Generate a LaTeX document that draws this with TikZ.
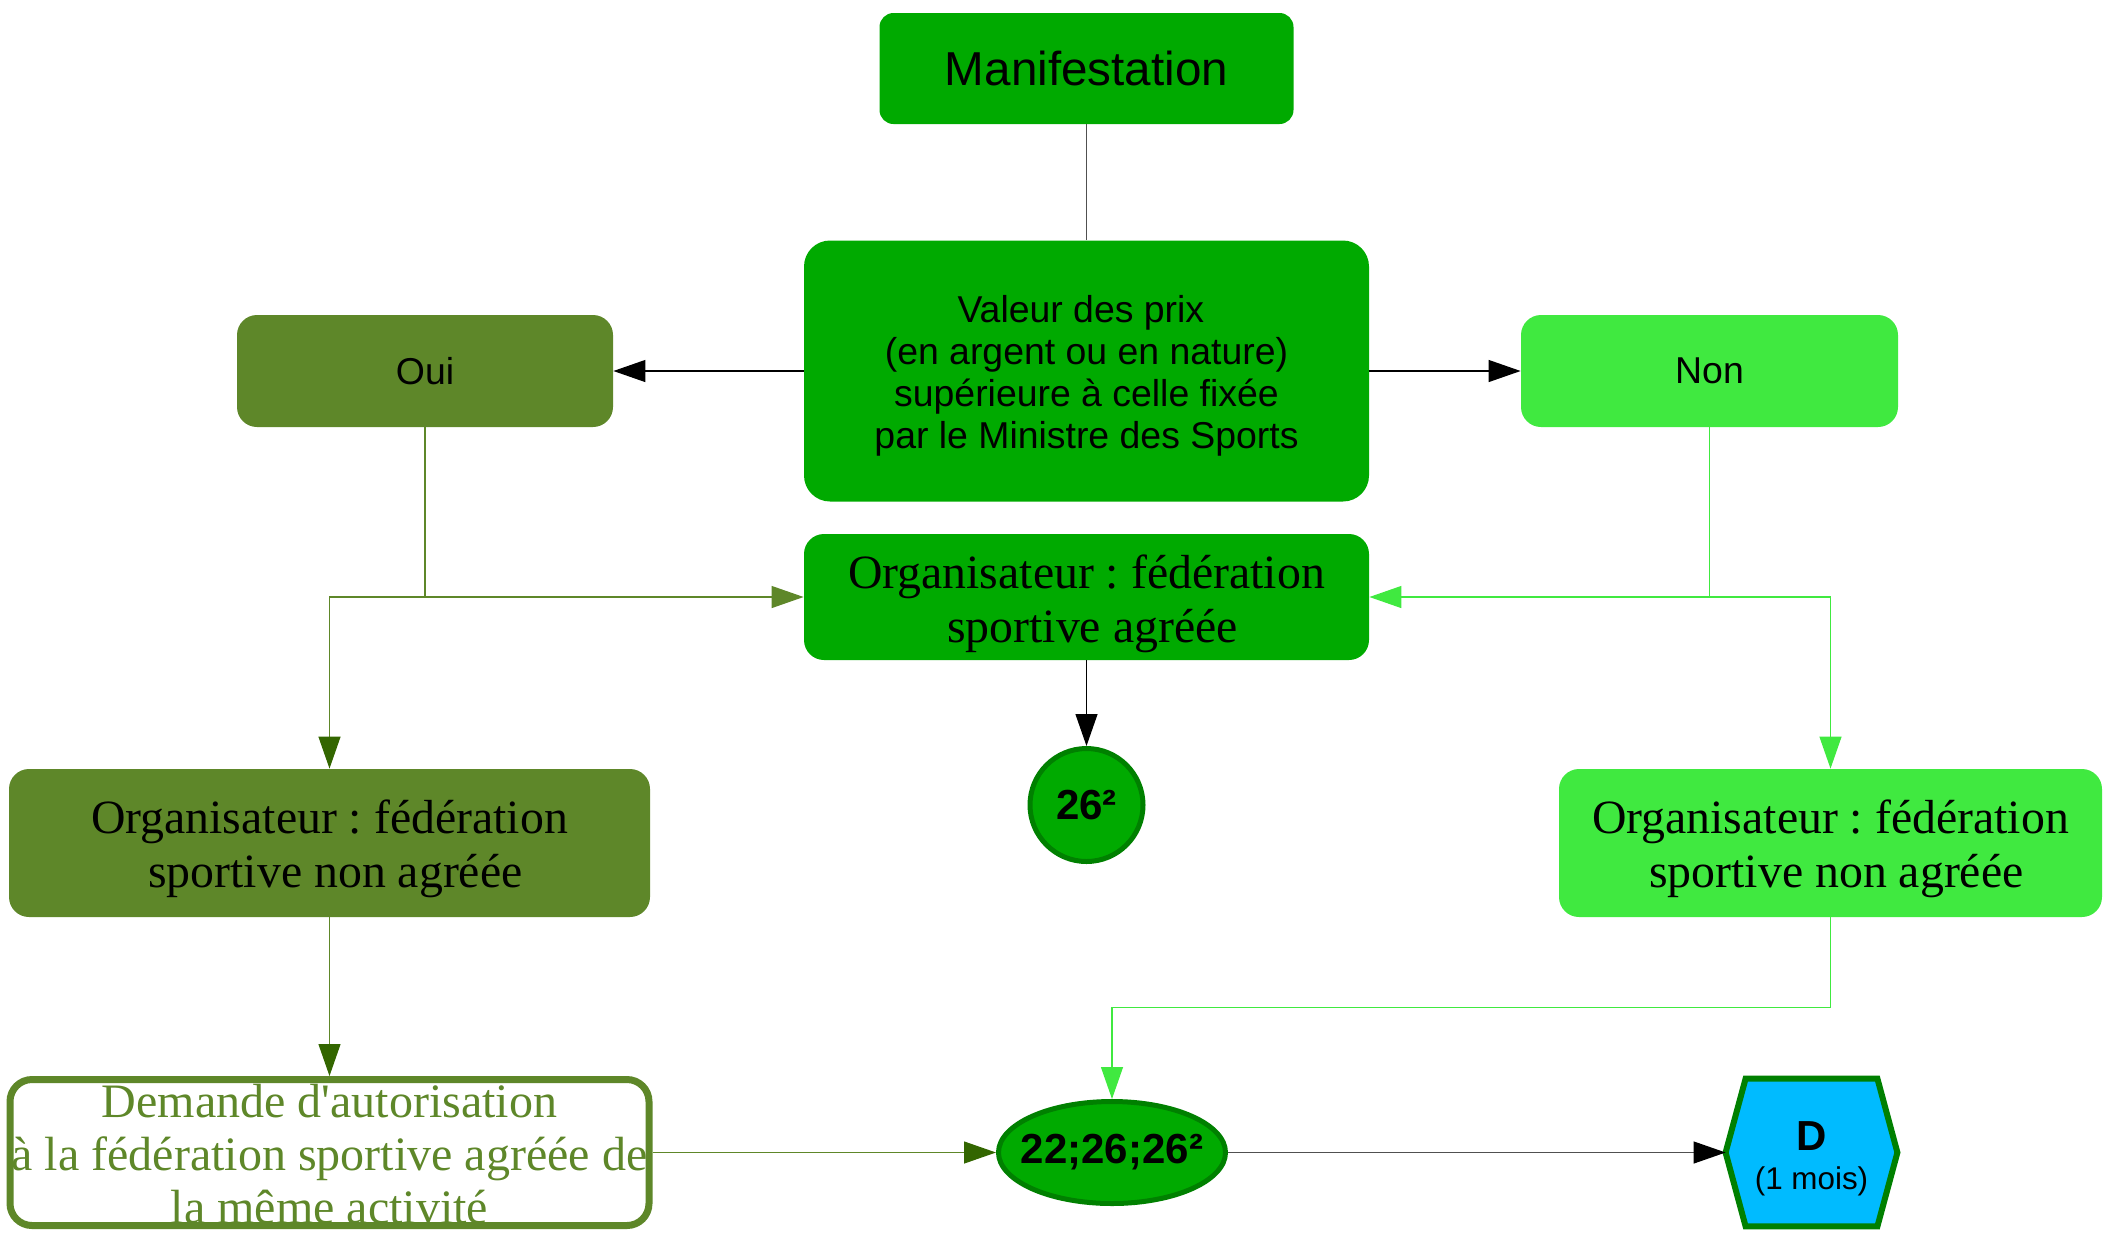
\documentclass[tikz,border=0pt]{standalone}
\usepackage{fontspec}
\setmainfont{Liberation Serif}
\newfontfamily\arialf{Liberation Sans}
\usetikzlibrary{arrows.meta,calc,shapes.geometric}
\definecolor{gA}{RGB}{0,170,0}
\definecolor{gOl}{RGB}{94,135,41}
\definecolor{gLt}{RGB}{64,233,64}
\definecolor{gDk}{RGB}{51,102,0}
\definecolor{gBd}{RGB}{0,128,0}
\definecolor{cyanD}{RGB}{0,187,255}
\definecolor{lnGray}{RGB}{80,80,80}
\frenchspacing
\begin{document}
\begin{tikzpicture}[x=0.5pt,y=-0.5pt,
  box/.style={rectangle,inner sep=0pt,align=center},
  txt/.style={inner sep=0pt,align=center},
  sansbig/.style={font=\arialf\fontsize{23.8}{27}\selectfont},
  sansmed/.style={font=\arialf\fontsize{18.7}{21.1}\selectfont},
  serifbig/.style={font=\fontsize{23.9}{27}\selectfont},
  sansbold/.style={font=\arialf\bfseries\fontsize{21}{24}\selectfont},
  arr/.style={-{Triangle[length=16pt,width=11pt,color=#1]}},
  arr/.default=black,
  conn/.style={line width=0.6pt}]
\useasboundingbox (0,0) rectangle (2111,1239);

% nodes
\node[box, fill=gA, rounded corners=7pt, minimum width=207pt, minimum height=55.5pt, sansbig] (man) at (1086.5,68.5) {Manifestation};
\node[box, fill=gA, rounded corners=13pt, minimum width=282.5pt, minimum height=130.5pt] (val) at (1086.5,371) {};
\node[txt, sansmed] (valT) at ($(val.center)+(0,5)$) {Valeur des prix\hspace*{0.3em}\\(en argent ou en nature)\hspace*{0.3em}\\supérieure à celle fixée\hspace*{0.3em}\\par le Ministre des Sports};
\node[box, fill=gOl, rounded corners=10pt, minimum width=188pt, minimum height=56pt, sansmed] (oui) at (425,371) {Oui};
\node[box, fill=gLt, rounded corners=10pt, minimum width=188.5pt, minimum height=56pt, sansmed] (non) at (1709.5,371) {Non};
\node[box, fill=gA, rounded corners=10pt, minimum width=282.5pt, minimum height=63pt] (orgA) at (1086.5,597) {};
\node[txt, serifbig] (orgAT) at ($(orgA.center)+(0,7)$) {Organisateur : fédération\\\hspace*{0.25em}sportive agréée};
\node[circle, inner sep=0pt, fill=gA, draw=gBd, line width=2.5pt, minimum size=56.5pt, sansbold] (c26) at (1086.5,805) {26²};
\node[box, fill=gOl, rounded corners=10pt, minimum width=320.5pt, minimum height=74pt] (orgL) at (329.5,843) {};
\node[txt, serifbig] (orgLT) at ($(orgL.center)+(0,6)$) {Organisateur : fédération\\\hspace*{0.25em}sportive non agréée};
\node[box, fill=gLt, rounded corners=10pt, minimum width=271.5pt, minimum height=74pt] (orgR) at (1830.5,843) {};
\node[txt, serifbig] (orgRT) at ($(orgR.center)+(0,6)$) {Organisateur : fédération\\\hspace*{0.25em}sportive non agréée};
\node[box, fill=white, draw=gOl, line width=3.5pt, rounded corners=11pt, minimum width=319.5pt, minimum height=73pt] (dem) at (329.5,1152.5) {};
\node[txt, text=gOl, font=\fontsize{24}{26.5}\selectfont] (demT) at ($(dem.center)+(0,2)$) {Demande d\textquotesingle autorisation\\à la fédération sportive agréée de\\la même activité};
\node[ellipse, inner sep=0pt, fill=gA, draw=gBd, line width=2.5pt, minimum width=113.5pt, minimum height=51pt] (ell) at (1112,1152.5) {};
\node[sansbold, inner sep=0pt] (ellT) at (ell.center) {22;26;26²};
\node[box, minimum width=85.5pt, minimum height=73.5pt] (hex) at (1811.5,1152.5) {};
\draw[fill=cyanD, draw=gBd, line width=3pt, line join=miter]
  (hex.west) -- ($(hex.north west)+(20,0)$) -- ($(hex.north east)+(-20,0)$) -- (hex.east)
  -- ($(hex.south east)+(-20,0)$) -- ($(hex.south west)+(20,0)$) -- cycle;
\node[sansbold, inner sep=0pt] (hexD) at (1811.5,1136) {D};
\node[font=\arialf\fontsize{15.7}{18}\selectfont, inner sep=0pt] (hexM) at (1811.5,1181) {(1 mois)};

% connectors
\draw[conn, lnGray] (man.south) -- (val.north);
\draw[conn, arr] (val.west) -- (oui.east);
\draw[conn, arr] (val.east) -- (non.west);
\coordinate (jL) at (oui.south |- orgA.west);
\draw[conn, gOl] (oui.south) -- (jL);
\draw[conn, gOl, arr=gOl] (jL) -- (orgA.west);
\draw[conn, gOl, arr=gDk] (jL) -| (orgL.north);
\coordinate (jR) at (non.south |- orgA.east);
\draw[conn, gLt] (non.south) -- (jR);
\draw[conn, gLt, arr=gLt] (jR) -- (orgA.east);
\draw[conn, gLt, arr=gLt] (jR) -| (orgR.north);
\draw[conn, arr] (orgA.south) -- (c26.north);
\draw[conn, gOl, arr=gDk] (orgL.south) -- (dem.north);
\coordinate (jB) at ($(orgR.south)+(0,90)$);
\draw[conn, gLt, arr=gLt] (orgR.south) -- (jB) -| (ell.north);
\draw[conn, gOl, arr=gDk] (dem.east) -- (ell.west);
\draw[conn, lnGray, arr] (ell.east) -- (hex.west);
\end{tikzpicture}
\end{document}
